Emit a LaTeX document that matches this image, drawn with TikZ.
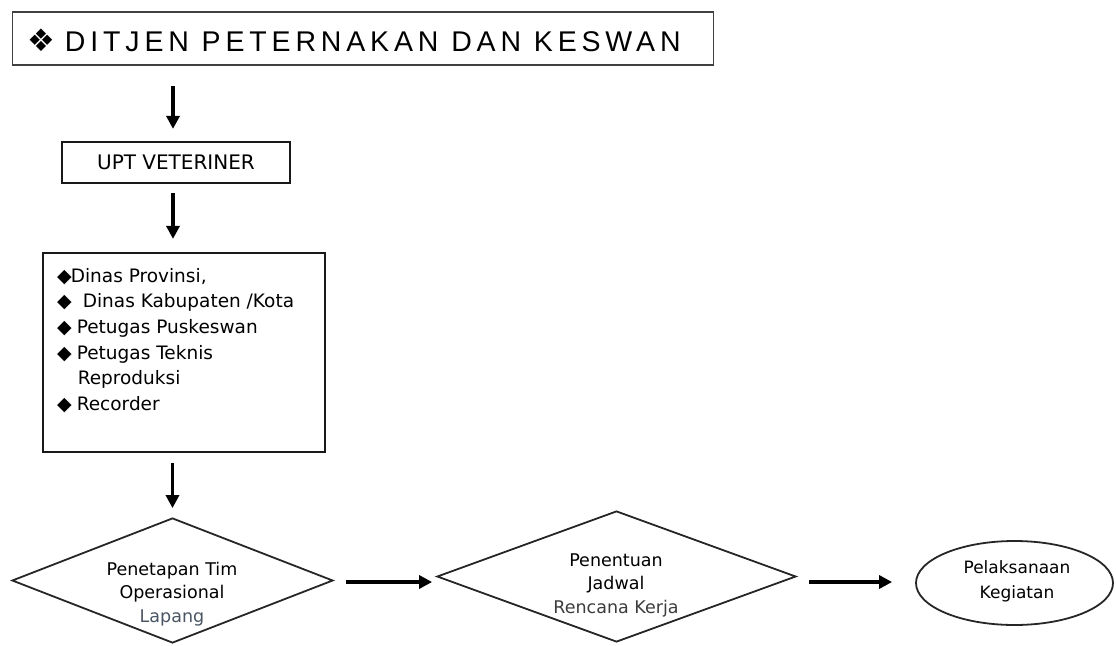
\documentclass[tikz,border=0pt]{standalone}
\usepackage{fontspec}
\setmainfont{DejaVu Sans}
\newfontfamily\symfont{DejaVu Sans}
\newfontfamily\titlefont[LetterSpace=17]{Liberation Sans}
\usetikzlibrary{shapes.geometric,arrows.meta}
\newcommand\dmd{{\symfont\fontsize{19}{19}\selectfont ◆}}
\definecolor{lapang}{HTML}{4A5563}
\definecolor{rencana}{HTML}{3C3C3C}
\begin{document}
\begin{tikzpicture}[x=1pt,y=-1pt,
  box/.style={draw=black!90,line width=2.2pt,rectangle,inner sep=0pt},
  dia/.style={draw=black!85,line width=1.8pt,diamond,inner sep=0pt},
  ell/.style={draw=black!85,line width=1.8pt,ellipse,inner sep=0pt},
  lbl/.style={font=\fontsize{17.5}{23.5}\selectfont,align=center,inner sep=0pt},
  arr/.style={line width=3.2pt,-{Triangle[length=13pt,width=13pt]}}]
\useasboundingbox (0,0) rectangle (1116,645);
% top box
\node[box,draw=black!75,line width=1.6pt,minimum width=701pt,minimum height=53pt] (top) at (363,38.5) {};
\node[anchor=west,inner sep=0pt] (toptext) at (27,40)
  {{\symfont\fontsize{31}{31}\selectfont ❖}\hspace{10pt}{\titlefont\fontsize{28.5}{32}\selectfont DITJEN PETERNAKAN DAN KESWAN}};
% UPT
\node[box,minimum width=228pt,minimum height=41pt,font=\fontsize{20}{22}\selectfont] (upt) at (176,162.5) {UPT VETERINER};
% big box
\node[box,minimum width=282pt,minimum height=199pt] (prov) at (184,352.5) {};
\node[anchor=north west,inner sep=0pt,align=left,font=\fontsize{18.5}{25.6}\selectfont] (provtext) at (57,268)
  {\dmd\hspace{-1pt}Dinas Provinsi,\\
   \dmd\hspace{11pt}Dinas Kabupaten /Kota\\
   \dmd\hspace{5pt}Petugas Puskeswan\\
   \dmd\hspace{5pt}Petugas Teknis\\
   \hphantom{\dmd}\hspace{6pt}Reproduksi\\
   \dmd\hspace{5pt}Recorder};
% diamonds
\node[dia,minimum width=321pt,minimum height=125pt] (d1) at (172.5,580.5) {};
\node[lbl] (d1t) at (172,594) {Penetapan Tim\\Operasional\\\textcolor{lapang}{Lapang}};
\node[dia,minimum width=359pt,minimum height=131pt] (d2) at (616.5,576.5) {};
\node[lbl] (d2t) at (616,585) {Penentuan\\Jadwal\\\textcolor{rencana}{Rencana Kerja}};
% ellipse
\node[ell,minimum width=197pt,minimum height=84pt] (el) at (1014.5,583) {};
\node[lbl,font=\fontsize{17}{25}\selectfont] (elt) at (1017,581.5) {Pelaksanaan\\Kegiatan};
% arrows
\draw[arr,shorten <=20pt,shorten >=12pt] ([xshift=-3pt]upt.north |- top.south) -- ([xshift=-3pt]upt.north);
\draw[arr,shorten <=9pt,shorten >=13pt] ([xshift=-3pt]upt.south) -- ([xshift=-3pt]upt.south |- prov.north);
\draw[arr,shorten <=10pt,shorten >=9pt] (d1.north |- prov.south) -- (d1.north);
\draw[arr,shorten <=12pt,shorten >=4pt] ([yshift=-1.5pt]d1.east) -- ([yshift=-1.5pt]d1.east -| d2.west);
\draw[arr,shorten <=12pt,shorten >=23pt] ([yshift=1pt]el.west -| d2.east) -- ([yshift=1pt]el.west);
\end{tikzpicture}
\end{document}
